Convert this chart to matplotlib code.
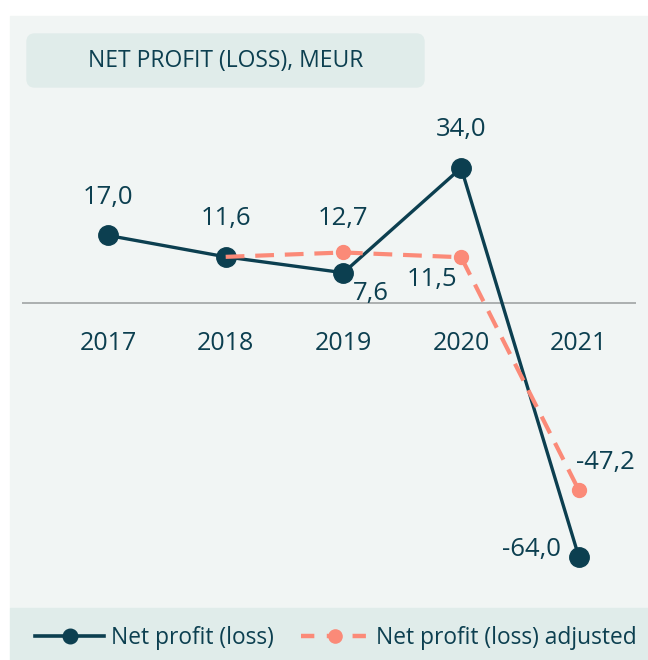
import matplotlib
matplotlib.use("Agg")
import matplotlib.pyplot as plt
from matplotlib.patches import Rectangle, FancyBboxPatch
from matplotlib.lines import Line2D
import numpy as np

years = ["2017", "2018", "2019", "2020", "2021"]
net_profit = [17.0, 11.6, 7.6, 34.0, -64.0]
net_profit_adj = [np.nan, 11.6, 12.7, 11.5, -47.2]

# label offsets in pixels (dx, dy), screen-down positive dy
np_offsets = [(0, -38), (0, -38), (27, 21), (0, -38), (-47, -8)]
adj_offsets = [None, None, (0, -34), (-29, 22), (26, -28)]

DARK = "#0c3f50"
SALMON = "#fb8a78"
PANEL = "#f1f5f4"
BAND = "#e0ecea"

plt.rcParams["font.family"] = ["Open Sans", "DejaVu Sans"]

W, H = 648, 660
fig = plt.figure(figsize=(W / 100, H / 100), dpi=100)
fig.patch.set_facecolor("white")


def px_box(x0, y0, x1, y1):
    # pixel box (top-left origin) -> figure fraction
    return x0 / W, 1 - y1 / H, (x1 - x0) / W, (y1 - y0) / H


# background panel and legend band
x, y, w, h = px_box(10, 16, 648, 608)
fig.add_artist(Rectangle((x, y), w, h, transform=fig.transFigure, color=PANEL, zorder=0))
x, y, w, h = px_box(10, 608, 648, 660)
fig.add_artist(Rectangle((x, y), w, h, transform=fig.transFigure, color=BAND, zorder=0))
x, y, w, h = px_box(27, 34, 424, 87)
fig.add_artist(FancyBboxPatch((x, y), w, h, transform=fig.transFigure,
                              boxstyle="round,pad=0,rounding_size=0.012",
                              color=BAND, zorder=1))
fig.text((27 + 424) / 2 / W, 1 - 61 / H, "NET PROFIT (LOSS), MEUR", color=DARK,
         fontsize=16.5, ha="center", va="center")

ax = fig.add_axes(px_box(22, 100, 636, 590))
ax.set_facecolor("none")
ax.axis("off")
xs = np.arange(len(years))
ax.set_xlim(-0.73, 4.485)
ax.set_ylim(-72.3, 51.1)

ax.axhline(0, color="#a0a4a4", lw=1.2, zorder=1)

ax.plot(xs, net_profit, color=DARK, lw=2.4, marker="o", ms=14, zorder=3)
ax.plot(xs, net_profit_adj, color=SALMON, lw=3, dashes=(4.5, 2.6), marker="o", ms=10,
        markevery=[2, 3, 4], zorder=4)

k = 0.72
FS = 18.5
for i, v in enumerate(net_profit):
    dx, dy = np_offsets[i]
    ax.annotate(f"{v:.1f}".replace(".", ","), (i, v), xytext=(dx * k, -dy * k),
                textcoords="offset points", ha="center", va="center",
                fontsize=FS, color=DARK, zorder=5)
for i, v in enumerate(net_profit_adj):
    if adj_offsets[i] is None:
        continue
    dx, dy = adj_offsets[i]
    ax.annotate(f"{v:.1f}".replace(".", ","), (i, v), xytext=(dx * k, -dy * k),
                textcoords="offset points", ha="center", va="center",
                fontsize=FS, color=DARK, zorder=5)

for i, yr in enumerate(years):
    ax.annotate(yr, (i, 0), xytext=(0, -41 * k), textcoords="offset points",
                ha="center", va="center", fontsize=18, color=DARK)

handles = [
    Line2D([], [], color=DARK, lw=2.6, marker="o", ms=10.5),
    Line2D([], [], color=SALMON, lw=3.2, dashes=(3.0, 2.8), marker="o", ms=9.5),
]
leg = fig.legend(handles, ["Net profit (loss)", "Net profit (loss) adjusted"],
                 loc="center", bbox_to_anchor=(336 / W, 1 - 638 / H), ncol=2, frameon=False,
                 fontsize=16.4, handlelength=3.0, handletextpad=0.3, columnspacing=1.2)
for t in leg.get_texts():
    t.set_color(DARK)

fig.savefig("out.png", dpi=100, facecolor="white")
